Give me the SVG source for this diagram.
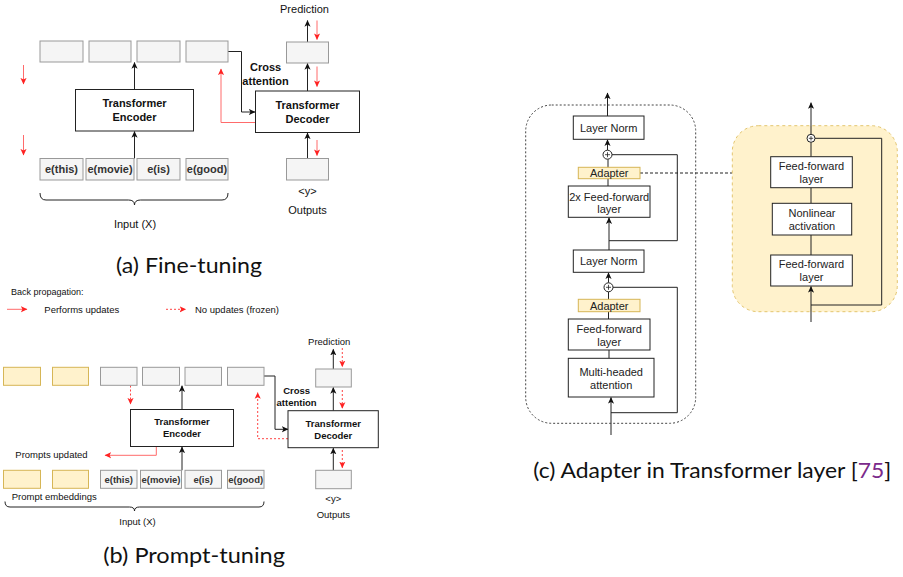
<svg xmlns="http://www.w3.org/2000/svg" width="903" height="577" viewBox="0 0 903 577">
<style>
text{font-family:"Liberation Sans",Arial,sans-serif;fill:#111}
.b{font-weight:bold}
.s11{font-size:11px}
.s95{font-size:9.5px}
.s9{font-size:9px}
.c{text-anchor:middle}
.gbox{fill:#f5f5f5;stroke:#999;stroke-width:1}
.gt{fill:#333;font-weight:bold}
.wbox{fill:#fff;stroke:#222;stroke-width:1}
.ybox{fill:#fff2cc;stroke:#d6b656;stroke-width:1}
.ln{fill:none;stroke:#222;stroke-width:1}
.rl{fill:none;stroke:#ff6b6b;stroke-width:1}
.rd{fill:none;stroke:#ff4444;stroke-width:1;stroke-dasharray:2,2}
.cap{font-family:Lato,"Noto Sans",sans-serif;font-size:22px;fill:#111}
.ct{fill:#222}
</style>
<defs>
<marker id="ab" viewBox="0 0 8 8" refX="7" refY="4" markerWidth="7" markerHeight="7" orient="auto" markerUnits="userSpaceOnUse"><path d="M0,0.5 L7.5,4 L0,7.5 L1.8,4 z" fill="#111"/></marker>
<marker id="ar" viewBox="0 0 8 8" refX="7" refY="4" markerWidth="7" markerHeight="7" orient="auto" markerUnits="userSpaceOnUse"><path d="M0,0.5 L7.5,4 L0,7.5 L1.8,4 z" fill="#ff2222"/></marker>
</defs>

<!-- connectors -->
<g id="connectors">
  <!-- (a) -->
  <line class="ln" x1="134.5" y1="89.5" x2="134.5" y2="62.5" marker-end="url(#ab)"/>
  <line class="ln" x1="134.5" y1="158.5" x2="134.5" y2="131.5" marker-end="url(#ab)"/>
  <line class="ln" x1="307.5" y1="91" x2="307.5" y2="63.5" marker-end="url(#ab)"/>
  <line class="ln" x1="307.5" y1="42" x2="307.5" y2="20.5" marker-end="url(#ab)"/>
  <line class="ln" x1="307.5" y1="158.5" x2="307.5" y2="133" marker-end="url(#ab)"/>
  <path class="ln" d="M228,51.5 H241.5 V112 H255" marker-end="url(#ab)"/>
  <path class="rl" d="M255.5,122.5 H221 V69" marker-end="url(#ar)"/>
  <line class="rl" x1="23.5" y1="65" x2="23.5" y2="84" marker-end="url(#ar)"/>
  <line class="rl" x1="23.5" y1="135" x2="23.5" y2="155" marker-end="url(#ar)"/>
  <line class="rl" x1="317" y1="20.5" x2="317" y2="39.5" marker-end="url(#ar)"/>
  <line class="rl" x1="317" y1="66.5" x2="317" y2="86.5" marker-end="url(#ar)"/>
  <line class="rl" x1="317" y1="140" x2="317" y2="155.5" marker-end="url(#ar)"/>
  <path class="ln" d="M40,193 Q40,200 46,200 H128.5 Q134.5,200 134.5,205 Q134.5,200 140.5,200 H222 Q228,200 228,193" stroke="#444"/>
  <!-- legend -->
  <line class="rl" x1="7" y1="309.3" x2="27" y2="309.3" stroke-width="1.5" stroke="#ff8a8a" marker-end="url(#ar)"/>
  <line class="rd" x1="166" y1="309.3" x2="185.7" y2="309.3" marker-end="url(#ar)"/>
  <!-- (b) -->
  <line class="ln" x1="182" y1="409.5" x2="182" y2="385.8" marker-end="url(#ab)"/>
  <line class="ln" x1="182" y1="470.3" x2="182" y2="447" marker-end="url(#ab)"/>
  <line class="rd" x1="130.5" y1="385.5" x2="130.5" y2="404" marker-end="url(#ar)"/>
  <path class="rl" d="M156.3,446.5 V455.3 H105" marker-end="url(#ar)"/>
  <line class="ln" x1="333.3" y1="369" x2="333.3" y2="349.3" marker-end="url(#ab)"/>
  <line class="ln" x1="333.3" y1="410.7" x2="333.3" y2="387.5" marker-end="url(#ab)"/>
  <line class="ln" x1="333.3" y1="470.3" x2="333.3" y2="448.2" marker-end="url(#ab)"/>
  <line class="rd" x1="342.3" y1="348" x2="342.3" y2="366.7" marker-end="url(#ar)"/>
  <line class="rd" x1="342.3" y1="390" x2="342.3" y2="408.3" marker-end="url(#ar)"/>
  <line class="rd" x1="342.3" y1="450" x2="342.3" y2="467.7" marker-end="url(#ar)"/>
  <path class="ln" d="M264,376 H275 V429.3 H288" marker-end="url(#ab)"/>
  <path class="rd" d="M288,438.7 H257.7 V392.7" marker-end="url(#ar)"/>
  <path class="ln" d="M5,501.5 Q5,507 10,507 H129.5 Q134.5,507 134.5,511 Q134.5,507 139.5,507 H259 Q264,507 264,501.5" stroke="#444"/>
  <!-- (c) left -->
  <line class="ln" x1="607.5" y1="116" x2="607.5" y2="93" marker-end="url(#ab)"/>
  <line class="ln" x1="607.5" y1="150.2" x2="607.5" y2="139.8" marker-end="url(#ab)"/>
  <line class="ln" x1="608" y1="186" x2="608" y2="159.2"/>
  <path class="ln" d="M612,154.7 H677.3 V240.7 H609"/>
  <line class="ln" x1="609" y1="250" x2="609" y2="217.8" marker-end="url(#ab)"/>
  <line class="ln" x1="608.5" y1="282.8" x2="608.5" y2="272.8" marker-end="url(#ab)"/>
  <line class="ln" x1="608.5" y1="319" x2="608.5" y2="291.8"/>
  <path class="ln" d="M613,287.3 H677.3 V412.7 H611"/>
  <line class="ln" x1="609" y1="350" x2="609" y2="358.3"/>
  <line class="ln" x1="611" y1="435" x2="611" y2="397.5" marker-end="url(#ab)"/>
  <line class="ln" x1="640" y1="173" x2="732.3" y2="173" stroke-dasharray="3,2" stroke="#444"/>
</g>

<!-- (a) Fine-tuning -->
<g id="a-top-1"><rect class="gbox" x="40" y="41" width="43" height="21"/></g>
<g id="a-top-2"><rect class="gbox" x="89" y="41" width="42" height="21"/></g>
<g id="a-top-3"><rect class="gbox" x="137" y="41" width="43" height="21"/></g>
<g id="a-top-4"><rect class="gbox" x="186" y="41" width="42" height="21"/></g>
<g id="a-in-1"><rect class="gbox" x="40" y="158.5" width="43" height="21.5"/><text class="gt s11 c" x="61.5" y="173.3">e(this)</text></g>
<g id="a-in-2"><rect class="gbox" x="86" y="158.5" width="48" height="21.5"/><text class="gt s11 c" x="110" y="173.3">e(movie)</text></g>
<g id="a-in-3"><rect class="gbox" x="137" y="158.5" width="43" height="21.5"/><text class="gt s11 c" x="158.5" y="173.3">e(is)</text></g>
<g id="a-in-4"><rect class="gbox" x="186" y="158.5" width="42" height="21.5"/><text class="gt s11 c" x="207" y="173.3">e(good)</text></g>
<g id="a-encoder"><rect class="wbox" x="75.5" y="89.5" width="118" height="41.5"/><text class="b s11 c" x="134.5" y="106.6">Transformer</text><text class="b s11 c" x="134.5" y="120.6">Encoder</text></g>
<g id="a-decoder"><rect class="wbox" x="255.5" y="91" width="104" height="41.5"/><text class="b s11 c" x="307.5" y="109">Transformer</text><text class="b s11 c" x="307.5" y="122.5">Decoder</text></g>
<g id="a-pred"><rect class="gbox" x="286.5" y="42" width="42" height="21"/><text class="s11 c" x="304.5" y="13">Prediction</text></g>
<g id="a-out"><rect class="gbox" x="286.5" y="158.5" width="42" height="21.5"/><text class="s11 c" x="307.5" y="194.5">&lt;y&gt;</text><text class="s11 c" x="307.5" y="214">Outputs</text></g>
<g id="a-labels"><text class="b s11 c" x="265.6" y="70.7">Cross</text><text class="b s11 c" x="265.6" y="84.5">attention</text><text class="s11 c" x="135" y="228">Input (X)</text></g>
<text class="cap" x="116" y="272.5" textLength="146" lengthAdjust="spacingAndGlyphs">(a) Fine-tuning</text>

<!-- legend -->
<g id="legend"><text class="s9" x="11" y="294.5">Back propagation:</text><text class="s95" x="44.3" y="312.6">Performs updates</text><text class="s95" x="195" y="312.6">No updates (frozen)</text></g>

<!-- (b) Prompt-tuning -->
<g id="b-ptop-1"><rect class="ybox" x="3.5" y="367.3" width="37" height="18"/></g>
<g id="b-ptop-2"><rect class="ybox" x="52.5" y="367.3" width="36" height="18"/></g>
<g id="b-top-1"><rect class="gbox" x="100.5" y="367.3" width="36.5" height="18"/></g>
<g id="b-top-2"><rect class="gbox" x="142.5" y="367.3" width="37" height="18"/></g>
<g id="b-top-3"><rect class="gbox" x="185" y="367.3" width="36.5" height="18"/></g>
<g id="b-top-4"><rect class="gbox" x="227.5" y="367.3" width="36.5" height="18"/></g>
<g id="b-pin-1"><rect class="ybox" x="3.5" y="470.3" width="37" height="18"/></g>
<g id="b-pin-2"><rect class="ybox" x="52.5" y="470.3" width="36" height="18"/></g>
<g id="b-in-1"><rect class="gbox" x="100.5" y="470.3" width="36.5" height="18"/><text class="gt s95 c" x="118.7" y="482.6">e(this)</text></g>
<g id="b-in-2"><rect class="gbox" x="140.5" y="470.3" width="41" height="18"/><text class="gt s95 c" x="161" y="482.6">e(movie)</text></g>
<g id="b-in-3"><rect class="gbox" x="185" y="470.3" width="36.5" height="18"/><text class="gt s95 c" x="203.2" y="482.6">e(is)</text></g>
<g id="b-in-4"><rect class="gbox" x="227.5" y="470.3" width="36.5" height="18"/><text class="gt s95 c" x="245.7" y="482.6">e(good)</text></g>
<g id="b-encoder"><rect class="wbox" x="130.5" y="409.5" width="103" height="37"/><text class="b s95 c" x="182" y="424.7">Transformer</text><text class="b s95 c" x="182" y="436.7">Encoder</text></g>
<g id="b-decoder"><rect class="wbox" x="288" y="410.7" width="90.3" height="37"/><text class="b s95 c" x="333.3" y="426.6">Transformer</text><text class="b s95 c" x="333.3" y="439">Decoder</text></g>
<g id="b-pred"><rect class="gbox" x="315.7" y="369" width="35.6" height="18"/><text class="s95 c" x="329.2" y="345">Prediction</text></g>
<g id="b-out"><rect class="gbox" x="315.7" y="470.3" width="35.6" height="18.4"/><text class="s95 c" x="333.3" y="501.5">&lt;y&gt;</text><text class="s95 c" x="333.3" y="518.3">Outputs</text></g>
<g id="b-labels"><text class="b s95 c" x="296.6" y="393.5">Cross</text><text class="b s95 c" x="296.6" y="405.5">attention</text><text class="s95" x="15.3" y="458">Prompts updated</text><text class="s95" x="11.7" y="500.3">Prompt embeddings</text><text class="s95 c" x="137.5" y="525">Input (X)</text></g>
<text class="cap" x="103.3" y="563" textLength="181.7" lengthAdjust="spacingAndGlyphs">(b) Prompt-tuning</text>

<!-- (c) Adapter -->
<g id="c-layer"><rect x="525.7" y="105" width="170" height="318.3" rx="26" fill="none" stroke="#444" stroke-dasharray="2,2"/></g>
<g id="c-adapter-detail"><rect x="732.3" y="125.7" width="165" height="186" rx="26" fill="#fff2cc" stroke="#e3c56e" stroke-dasharray="3,3"/></g>
<g id="c-detail-connectors">
  <line class="ln" x1="811" y1="134.3" x2="811" y2="102.7" marker-end="url(#ab)"/>
  <path class="ln" d="M815,138.3 H881.7 V305 H811"/>
  <line class="ln" x1="811" y1="142.3" x2="811" y2="156.7"/>
  <line class="ln" x1="811" y1="187.7" x2="811" y2="203.3"/>
  <line class="ln" x1="811" y1="235" x2="811" y2="255"/>
  <line class="ln" x1="811" y1="322" x2="811" y2="286.5" marker-end="url(#ab)"/>
</g>
<g id="c-ln1"><rect class="wbox" x="573.3" y="116" width="70.7" height="23.3"/><text class="s11 c ct" x="608.7" y="131.5">Layer Norm</text></g>
<g id="c-add1"><circle cx="607.5" cy="154.7" r="4.5" fill="#fff" stroke="#222"/><path d="M605,154.7 H610 M607.5,152.2 V157.2" stroke="#222" stroke-width="0.8"/></g>
<g id="c-adapter1"><rect class="ybox" x="578.3" y="167.3" width="61.7" height="11.4"/><text class="s11 c ct" x="609.2" y="177">Adapter</text></g>
<g id="c-ff2x"><rect class="wbox" x="568.3" y="186" width="81.7" height="31.3"/><text class="s11 c ct" x="609.2" y="200.6">2x Feed-forward</text><text class="s11 c ct" x="609.2" y="213">layer</text></g>
<g id="c-ln2"><rect class="wbox" x="573.3" y="250" width="70.7" height="22.3"/><text class="s11 c ct" x="608.7" y="265">Layer Norm</text></g>
<g id="c-add2"><circle cx="608.5" cy="287.3" r="4.5" fill="#fff" stroke="#222"/><path d="M606,287.3 H611 M608.5,284.8 V289.8" stroke="#222" stroke-width="0.8"/></g>
<g id="c-adapter2"><rect class="ybox" x="578.3" y="299.3" width="61.7" height="12.4"/><text class="s11 c ct" x="609.2" y="309.5">Adapter</text></g>
<g id="c-ff"><rect class="wbox" x="568.3" y="319" width="81.7" height="31"/><text class="s11 c ct" x="609.2" y="333">Feed-forward</text><text class="s11 c ct" x="609.2" y="345.6">layer</text></g>
<g id="c-mha"><rect class="wbox" x="568.3" y="358.3" width="85.7" height="38.7"/><text class="s11 c ct" x="611.2" y="375.6">Multi-headed</text><text class="s11 c ct" x="611.2" y="389">attention</text></g>
<g id="c-add3"><circle cx="811" cy="138.3" r="4" fill="#fff" stroke="#222"/><path d="M808.8,138.3 H813.2 M811,136.1 V140.5" stroke="#222" stroke-width="0.8"/></g>
<g id="c-dff1"><rect class="wbox" x="770.7" y="156.7" width="81.6" height="31"/><text class="s11 c ct" x="811.5" y="170">Feed-forward</text><text class="s11 c ct" x="811.5" y="183">layer</text></g>
<g id="c-nonlin"><rect class="wbox" x="772.3" y="203.3" width="79.4" height="31.7"/><text class="s11 c ct" x="812" y="217.4">Nonlinear</text><text class="s11 c ct" x="812" y="230">activation</text></g>
<g id="c-dff2"><rect class="wbox" x="770.7" y="255" width="81.6" height="31"/><text class="s11 c ct" x="811.5" y="268.4">Feed-forward</text><text class="s11 c ct" x="811.5" y="281.4">layer</text></g>
<text class="cap" x="533.3" y="478.3" textLength="358" lengthAdjust="spacingAndGlyphs">(c) Adapter in Transformer layer [<tspan fill="#7b2a8b">75</tspan>]</text>
</svg>
